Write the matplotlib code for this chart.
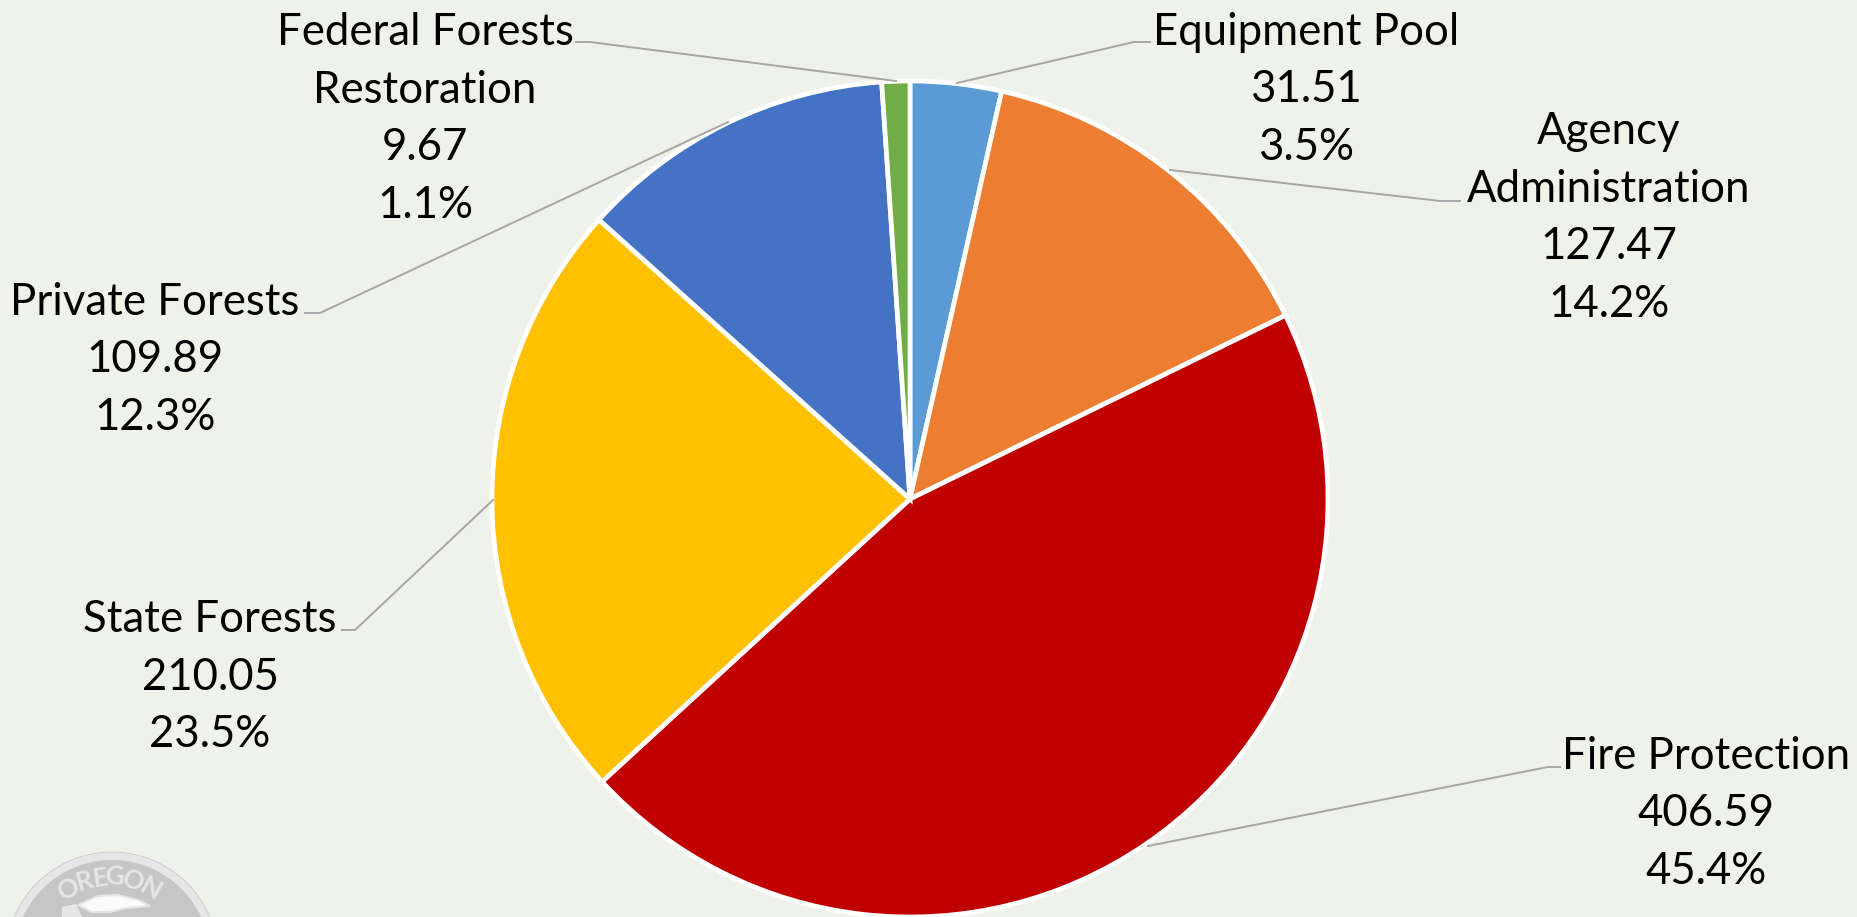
import matplotlib
matplotlib.use("Agg")
from matplotlib import pyplot as plt
from matplotlib.patches import Circle, Polygon

plt.rcParams['font.family'] = ['Lato', 'DejaVu Sans']

categories = ['Equipment Pool', 'Agency\nAdministration', 'Fire Protection', 'State Forests',
              'Private Forests', 'Federal Forests\nRestoration']
values = [31.51, 127.47, 406.59, 210.05, 109.89, 9.67]
percents = ['3.5%', '14.2%', '45.4%', '23.5%', '12.3%', '1.1%']
colors = ['#5B9BD5', '#ED7D31', '#C00000', '#FFC000', '#4472C4', '#70AD47']

W, H = 1858, 917
bg = '#EFF2EB'
fig = plt.figure(figsize=(W / 100, H / 100), dpi=100, facecolor=bg)
ax = fig.add_axes([0, 0, 1, 1])

cx, cy, r = 910, 499, 418
# y axis is flipped later, so start at -90 and go counterclock to read clockwise on screen
ax.pie(values, colors=colors, startangle=-90, counterclock=True, center=(cx, cy), radius=r,
       frame=True, wedgeprops={'edgecolor': 'white', 'linewidth': 3.4})
ax.set_xlim(0, W)
ax.set_ylim(H, 0)
ax.set_aspect('equal')
ax.axis('off')

label_pos = [(1306, 90), (1609, 218), (1706, 814), (210, 677), (155, 360), (425, 119)]
leaders = [[(957, 83), (1134, 42), (1150, 42)],
           [(1170, 170), (1440, 201), (1460, 201)],
           [(1148, 846), (1548, 767), (1560, 767)],
           [(493, 500), (355, 630), (342, 630)],
           [(728, 122), (320, 313), (305, 313)],
           [(896, 81), (590, 42), (576, 42)]]

for name, v, p, pos, line in zip(categories, values, percents, label_pos, leaders):
    ax.text(pos[0], pos[1], name + '\n' + format(v, '.2f') + '\n' + p, ha='center', va='center',
            fontsize=31.5, color='black', linespacing=1.5)
    ax.plot([q[0] for q in line], [q[1] for q in line], color='#A6A6A6', lw=1.4)

# seal in the lower left corner, cut off by the edge of the picture
ax.add_patch(Circle((112, 958), 106, fc='#E6E6E6', ec='#C8C8C8', lw=0.6, zorder=1))
ax.add_patch(Circle((112, 958), 98, fc='#C6C6C6', ec='none', zorder=2))
ax.add_patch(Polygon([(62, 907), (76, 904), (82, 917), (62, 917)], fc='#E6E6E6', ec='none', zorder=3))
ax.add_patch(Polygon([(78, 905), (98, 896), (118, 895), (138, 900), (150, 906), (126, 908),
                      (110, 912), (92, 912)], fc='#FBFBFB', ec='#E6E6E6', lw=1.5, zorder=3))
seal_letters = [('O', 69, 889, 27), ('R', 85, 881, 16), ('E', 100, 878, 7), ('G', 115, 877, -3),
                ('O', 133, 881, -15), ('N', 151, 889, -30)]
for ch, x, y, rot in seal_letters:
    ax.text(x, y, ch, ha='center', va='center', rotation=rot, fontsize=19, fontweight='bold',
            color='#E6E6E6', zorder=4)

fig.savefig('out.png', dpi=100, facecolor=bg)
